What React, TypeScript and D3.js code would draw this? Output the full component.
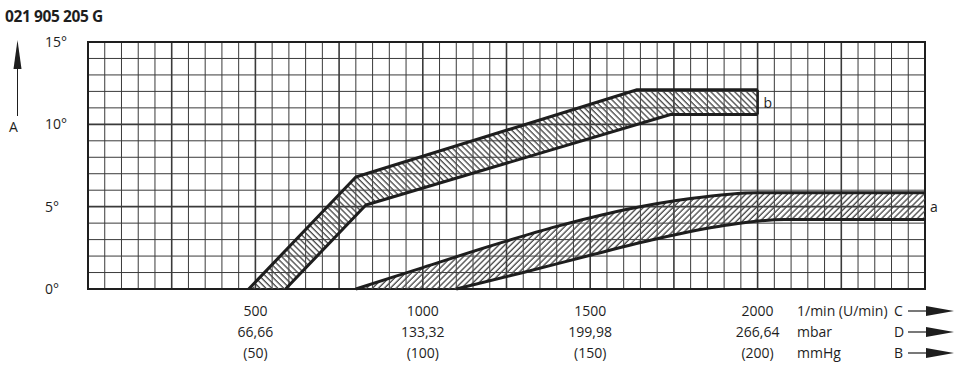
import React from "react";
import * as d3 from "d3";

const W = 974;
const H = 379;

const title = "021 905 205 G";
const yTicks = [0, 5, 10, 15];
const xTickValues = [500, 1000, 1500, 2000];
const xRowRpm = ["500", "1000", "1500", "2000"];
const xRowMbar = ["66,66", "133,32", "199,98", "266,64"];
const xRowMmHg = ["(50)", "(100)", "(150)", "(200)"];
const unitLabels = ["1/min (U/min)", "mbar", "mmHg"];
const unitLetters = ["C", "D", "B"];

// band b (upper band): [rpm, degrees]
const bUpper: [number, number][] = [[480, 0], [800, 6.8], [1640, 12.1], [2000, 12.1]];
const bLower: [number, number][] = [[590, 0], [830, 5.1], [1740, 10.6], [2000, 10.6]];
// band a (lower band)
const aUpper: [number, number][] = [[800, 0], [1000, 1.3], [1200, 2.6], [1400, 3.8], [1600, 4.8], [1800, 5.5], [2000, 5.85], [2500, 5.85]];
const aLower: [number, number][] = [[1100, 0], [1300, 1.0], [1500, 2.05], [1700, 3.05], [1900, 3.85], [2080, 4.22], [2500, 4.22]];

const x = d3.scaleLinear().domain([0, 2500]).range([88, 925]);
const y = d3.scaleLinear().domain([0, 15]).range([289, 42]);

const FONT = "'Open Sans', 'DejaVu Sans', sans-serif";
const INK = "#1e1e1e";

export default function App() {
  const lineLin = d3.line<[number, number]>().x(d => x(d[0])).y(d => y(d[1]));
  const lineMono = d3.line<[number, number]>().x(d => x(d[0])).y(d => y(d[1])).curve(d3.curveMonotoneX);
  const areaLin = d3.area<[number, number]>().x(d => x(d[0])).y0(y(0)).y1(d => y(d[1]));
  const areaMono = d3.area<[number, number]>().x(d => x(d[0])).y0(y(0)).y1(d => y(d[1])).curve(d3.curveMonotoneX);

  const vGrid = d3.range(0, 2501, 50);
  const hGrid = d3.range(0, 16, 1);

  return (
    <svg width={W} height={H} style={{ position: "absolute", left: 0, top: 0, background: "#fff" }}>
      <defs>
        <pattern id="hatchB" width={4.2} height={4.2} patternUnits="userSpaceOnUse" patternTransform="rotate(-45)">
          <line x1={1} y1={0} x2={1} y2={4.2} stroke="#444" strokeWidth={1.3} />
        </pattern>
        <pattern id="hatchA" width={4.2} height={4.2} patternUnits="userSpaceOnUse" patternTransform="rotate(45)">
          <line x1={1} y1={0} x2={1} y2={4.2} stroke="#444" strokeWidth={1.3} />
        </pattern>
        <mask id="maskB">
          <path d={areaLin(bUpper) || ""} fill="#fff" />
          <path d={areaLin(bLower) || ""} fill="#000" />
        </mask>
        <mask id="maskA">
          <path d={areaMono(aUpper) || ""} fill="#fff" />
          <path d={areaMono(aLower) || ""} fill="#000" />
        </mask>
      </defs>
      <rect x={0} y={0} width={W} height={H} fill="#fff" />

      <text x={5} y={22} fontFamily={FONT} fontWeight={700} fontSize={15.5} fill={INK} letterSpacing={-0.4}>{title}</text>

      {/* grid */}
      {vGrid.map(v => (
        <line key={"v" + v} x1={x(v)} x2={x(v)} y1={y(15)} y2={y(0)}
          stroke="#3a3a3a" strokeWidth={v % 250 === 0 ? 1.6 : 1} />
      ))}
      {hGrid.map(h => (
        <line key={"h" + h} x1={x(0)} x2={x(2500)} y1={y(h)} y2={y(h)}
          stroke="#3a3a3a" strokeWidth={h % 5 === 0 ? 1.8 : 1} />
      ))}
      <rect x={x(0)} y={y(15)} width={x(2500) - x(0)} height={y(0) - y(15)} fill="none" stroke={INK} strokeWidth={2} />

      {/* bands */}
      <rect x={x(0)} y={y(15)} width={x(2500) - x(0)} height={y(0) - y(15)} fill="url(#hatchB)" mask="url(#maskB)" />
      <rect x={x(0)} y={y(15)} width={x(2500) - x(0)} height={y(0) - y(15)} fill="url(#hatchA)" mask="url(#maskA)" />

      <path d={lineLin(bUpper) || ""} fill="none" stroke={INK} strokeWidth={3} strokeLinejoin="round" />
      <path d={lineLin(bLower) || ""} fill="none" stroke={INK} strokeWidth={3} strokeLinejoin="round" />
      <line x1={x(2000)} x2={x(2000)} y1={y(bUpper[bUpper.length - 1][1])} y2={y(bLower[bLower.length - 1][1])} stroke={INK} strokeWidth={2.5} />
      <path d={lineMono(aUpper) || ""} fill="none" stroke={INK} strokeWidth={3} />
      <path d={lineMono(aLower) || ""} fill="none" stroke={INK} strokeWidth={3} />

      <text x={x(2000) + 6} y={y(11.3) + 5} fontFamily={FONT} fontSize={14} fill={INK}>b</text>
      <text x={x(2500) + 5} y={y(5) + 5} fontFamily={FONT} fontSize={14} fill={INK}>a</text>

      {/* y axis labels */}
      {yTicks.map(t => (
        <text key={"yt" + t} x={45} y={y(t) + 5} fontFamily={FONT} fontSize={14} fill={INK}>{t}°</text>
      ))}
      <text x={9} y={132} fontFamily={FONT} fontSize={14} fill={INK}>A</text>
      <line x1={17.5} x2={17.5} y1={62} y2={116} stroke={INK} strokeWidth={1} />
      <path d="M17.5,40 L13.5,69 L21.5,69 Z" fill={INK} />

      {/* x labels */}
      {xTickValues.map((v, i) => (
        <g key={"xl" + v} fontFamily={FONT} fontSize={14} fill={INK} textAnchor="middle">
          <text x={x(v)} y={316}>{xRowRpm[i]}</text>
          <text x={x(v)} y={337}>{xRowMbar[i]}</text>
          <text x={x(v)} y={358}>{xRowMmHg[i]}</text>
        </g>
      ))}
      {unitLabels.map((u, i) => (
        <text key={"u" + i} x={797} y={316 + i * 21} fontFamily={FONT} fontSize={14} fill={INK}>{u}</text>
      ))}
      {unitLetters.map((l, i) => (
        <g key={"ul" + i}>
          <text x={894} y={316 + i * 21} fontFamily={FONT} fontSize={14} fill={INK}>{l}</text>
          <line x1={908} x2={935} y1={311 + i * 21} y2={311 + i * 21} stroke={INK} strokeWidth={1.2} />
          <path d={`M926,${306 + i * 21} L954,${311 + i * 21} L926,${316 + i * 21} Z`} fill={INK} />
        </g>
      ))}
    </svg>
  );
}
